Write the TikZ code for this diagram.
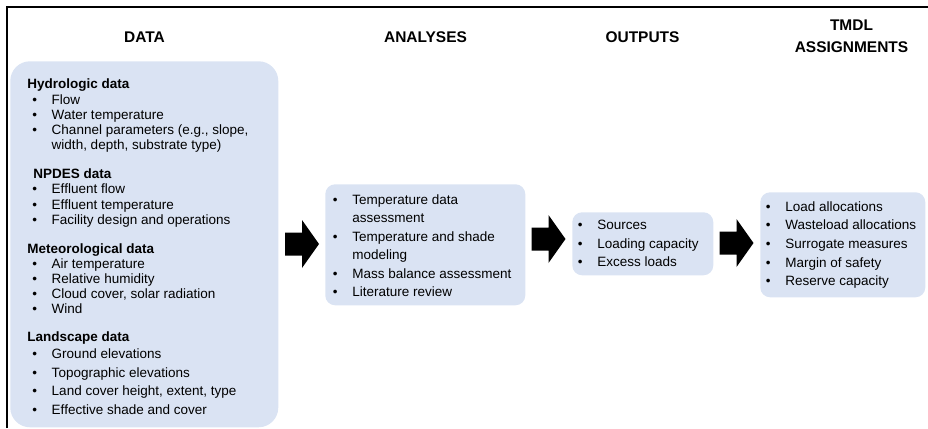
\documentclass[tikz,border=0pt]{standalone}
\usepackage{fontspec}
\setmainfont{Liberation Sans}

\definecolor{boxblue}{RGB}{218,227,243}
\newcommand{\px}{0.025cm}
\newcommand{\itm}{\makebox[13.8pt][l]{\textbullet}}
\newcommand{\ditm}{\hspace*{3.6pt}\itm}
\newcommand{\cont}{\hspace*{17.4pt}}

\begin{document}
\begin{tikzpicture}[x=0.025cm, y=-0.025cm,
    box/.style={fill=boxblue, anchor=north west, inner sep=0pt},
    header/.style={font=\fontsize{11}{15.6}\selectfont\bfseries, align=center},
    body/.style={font=\fontsize{9.6}{10.7}\selectfont, align=left, anchor=north west, inner sep=0pt}]
    \useasboundingbox (0,0) rectangle (928,428);

    % Cornice
    \draw[line width=1.4pt] (7,428) -- (7,7) -- (928,7);

    % Titoli delle colonne
    \node[header] (data_title) at (144.5,37) {DATA};
    \node[header] (ana_title) at (425.5,37) {ANALYSES};
    \node[header] (out_title) at (642.5,37) {OUTPUTS};
    \node[header] (tmdl_title) at (851.5,36) {TMDL\\ASSIGNMENTS};

    % Riquadri
    \node[box, rounded corners=14pt, minimum width=268*\px, minimum height=366*\px] (data_box) at (10,61) {};
    \node[box, rounded corners=7pt, minimum width=200*\px, minimum height=121*\px] (ana_box) at (325,184) {};
    \node[box, rounded corners=7pt, minimum width=141*\px, minimum height=63*\px] (out_box) at (572,212) {};
    \node[box, rounded corners=7pt, minimum width=165*\px, minimum height=105*\px] (tmdl_box) at (760,192) {};

    % Dati
    \node[body] (data_list) at (27,78) {%
        \textbf{Hydrologic data}\\[1.1pt]
        \ditm Flow\\
        \ditm Water temperature\\
        \ditm Channel parameters (e.g., slope,\\
        \cont width, depth, substrate type)\\[10pt]
        \hspace*{4.3pt}\textbf{NPDES data}\\
        \ditm Effluent flow\\
        \ditm Effluent temperature\\
        \ditm Facility design and operations\\[10.2pt]
        \textbf{Meteorological data}\\
        \ditm Air temperature\\
        \ditm Relative humidity\\
        \ditm Cloud cover, solar radiation\\
        \ditm Wind\\[9pt]
        \textbf{Landscape data}\\[1.4pt]
        \ditm Ground elevations\\[2.8pt]
        \ditm Topographic elevations\\[2.1pt]
        \ditm Land cover height, extent, type\\[2.8pt]
        \ditm Effective shade and cover};

    % Analisi
    \node[body, font=\fontsize{9.6}{13.2}\selectfont] (ana_list) at (332.6,194) {%
        \itm Temperature data\\
        \hspace*{13.8pt}assessment\\
        \itm Temperature and shade\\
        \hspace*{13.8pt}modeling\\
        \itm Mass balance assessment\\
        \itm Literature review};

    % Risultati
    \node[body, font=\fontsize{9.6}{13.2}\selectfont] (out_list) at (577.6,220) {%
        \itm Sources\\
        \itm Loading capacity\\
        \itm Excess loads};

    % Assegnazioni TMDL
    \node[body, font=\fontsize{9.6}{13.3}\selectfont] (tmdl_list) at (765.6,201) {%
        \itm Load allocations\\
        \itm Wasteload allocations\\
        \itm Surrogate measures\\
        \itm Margin of safety\\
        \itm Reserve capacity};

    % Frecce a blocco
    \foreach \name/\x/\y in {arrow_a/302/244, arrow_b/548.5/239, arrow_c/736.5/243} {
        \coordinate (\name) at (\x,\y);
        \fill (\name) ++(-17,-11.5) -- ++(17,0) -- ++(0,-12.5) -- ++(17,24)
            -- ++(-17,24) -- ++(0,-12.5) -- ++(-17,0) -- cycle;
    }
\end{tikzpicture}
\end{document}
